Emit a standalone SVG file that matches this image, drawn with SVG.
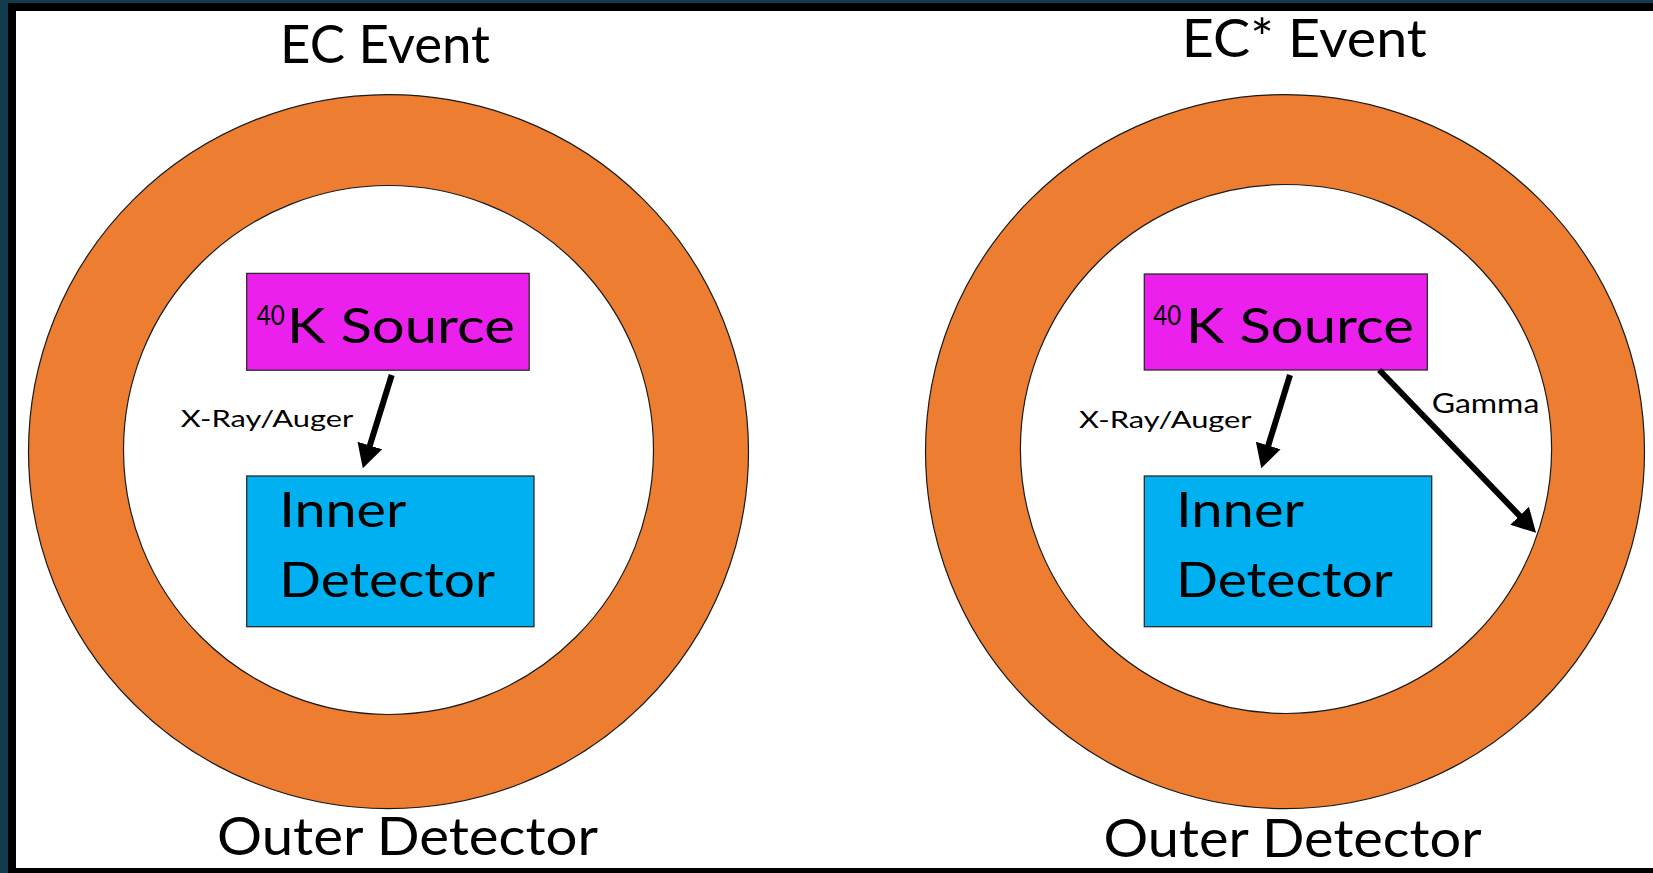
<svg xmlns="http://www.w3.org/2000/svg" width="1653" height="873" viewBox="0 0 1653 873">
  <style>
    text { font-family: Lato, "Open Sans", "Liberation Sans", sans-serif; fill: #000; }
    .title { font-size: 53px; }
    .big { font-size: 48px; }
    .sup { font-size: 26px; }
    .small { font-size: 23.5px; }
    .ring { fill: #ED7D31; stroke: #1a1a1a; stroke-width: 1.2; }
    .hole { fill: #FFFFFF; stroke: #1a1a1a; stroke-width: 1.2; }
    .src { fill: #EC20EC; stroke: #2b2b2b; stroke-width: 1.3; }
    .det { fill: #00B0F0; stroke: #2b2b2b; stroke-width: 1.3; }
    .arrow { stroke: #000; stroke-width: 6; fill: none; marker-end: url(#head); }
  </style>
  <defs>
    <marker id="head" markerUnits="userSpaceOnUse" markerWidth="26" markerHeight="28" viewBox="0 -13 24 26" refX="2" refY="0" orient="auto">
      <path d="M0,-12 L22,0 L0,12 z" fill="#000"/>
    </marker>
  </defs>

  <!-- frame -->
  <rect x="0" y="0" width="1653" height="873" fill="#123B50"/>
  <rect x="8" y="3" width="1645" height="870" fill="#000"/>
  <rect x="16" y="11" width="1637" height="857" fill="#FFFFFF"/>

  <!-- Left: EC Event -->
  <g id="outer-detector-left">
    <ellipse class="ring" cx="388.5" cy="451.6" rx="360" ry="357"/>
    <ellipse class="hole" cx="388.5" cy="450" rx="265" ry="264.5"/>
    <text class="title" x="217" y="855" textLength="381" lengthAdjust="spacingAndGlyphs">Outer Detector</text>
  </g>
  <text id="title-left" class="title" x="280" y="63" textLength="210" lengthAdjust="spacingAndGlyphs">EC Event</text>
  <g id="source-left">
    <rect class="src" x="246.7" y="273.4" width="282.5" height="96.8"/>
    <text class="sup" x="256.7" y="325" textLength="28" lengthAdjust="spacingAndGlyphs">40</text>
    <text class="big" x="287" y="343.3" textLength="228" lengthAdjust="spacingAndGlyphs">K Source</text>
  </g>
  <g id="inner-detector-left">
    <rect class="det" x="246.7" y="476" width="287.3" height="150.7"/>
    <text class="big" x="279.3" y="526.7" textLength="127" lengthAdjust="spacingAndGlyphs">Inner</text>
    <text class="big" x="279.3" y="596.7" textLength="215.7" lengthAdjust="spacingAndGlyphs">Detector</text>
  </g>

  <!-- Right: EC* Event -->
  <g id="outer-detector-right">
    <ellipse class="ring" cx="1285" cy="451.6" rx="359.5" ry="357"/>
    <ellipse class="hole" cx="1286" cy="449" rx="265.6" ry="264.5"/>
    <text class="title" x="1103.5" y="856.7" textLength="378" lengthAdjust="spacingAndGlyphs">Outer Detector</text>
  </g>
  <text id="title-right" class="title" x="1181.7" y="56.7" textLength="245" lengthAdjust="spacingAndGlyphs">EC* Event</text>
  <g id="source-right">
    <rect class="src" x="1144.3" y="274" width="283" height="96"/>
    <text class="sup" x="1153.3" y="325" textLength="28" lengthAdjust="spacingAndGlyphs">40</text>
    <text class="big" x="1186" y="343.3" textLength="228" lengthAdjust="spacingAndGlyphs">K Source</text>
  </g>
  <g id="inner-detector-right">
    <rect class="det" x="1144.3" y="476" width="287.4" height="150.7"/>
    <text class="big" x="1176" y="526.7" textLength="128" lengthAdjust="spacingAndGlyphs">Inner</text>
    <text class="big" x="1176" y="596.7" textLength="217" lengthAdjust="spacingAndGlyphs">Detector</text>
  </g>

  <!-- connectors -->
  <g id="connectors">
    <line class="arrow" x1="391.7" y1="375" x2="369.2" y2="447.6"/>
    <line class="arrow" x1="1290" y1="375" x2="1267.6" y2="447.6"/>
    <line class="arrow" x1="1379.3" y1="370" x2="1521.1" y2="517.3"/>
    <text class="small" x="180.7" y="426.7" textLength="172.6" lengthAdjust="spacingAndGlyphs">X-Ray/Auger</text>
    <text class="small" x="1079" y="428.3" textLength="172.6" lengthAdjust="spacingAndGlyphs">X-Ray/Auger</text>
    <text class="small" x="1431.7" y="413.3" textLength="107.6" lengthAdjust="spacingAndGlyphs" style="font-size:26px">Gamma</text>
  </g>
</svg>
